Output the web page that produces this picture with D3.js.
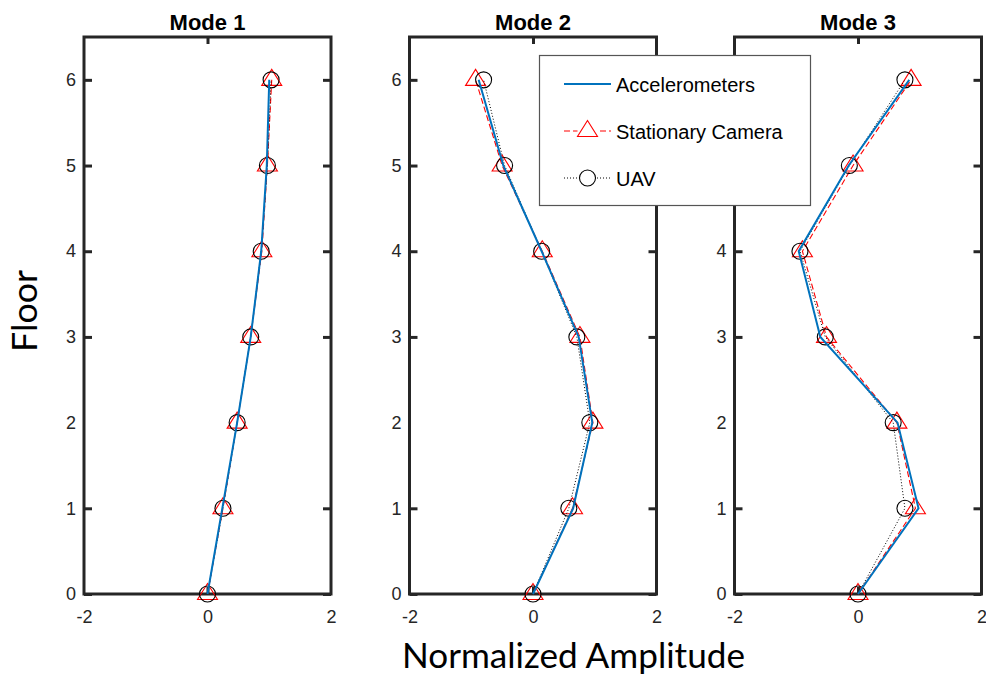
<!DOCTYPE html>
<html>
<head>
<meta charset="utf-8">
<script src="https://cdn.jsdelivr.net/npm/d3@7"></script>
<style>
	body { margin: 0; background: #fff; }
	svg { display: block; }
	.tick text { font-family: "Liberation Sans", Arial, sans-serif; font-size: 18px; fill: #262626; }
	.tick line { stroke: #262626; stroke-width: 3; }
</style>
</head>
<body>
<svg id="chart" width="986" height="675"></svg>
<script>
// values, one array per floor 0..6
const floors = [0, 1, 2, 3, 4, 5, 6]
const modeTitles = ['Mode 1', 'Mode 2', 'Mode 3']
const accelerometers = [
	[0, 0.24, 0.48, 0.70, 0.87, 0.96, 1.00],
	[0, 0.65, 0.96, 0.74, 0.14, -0.48, -0.88],
	[0, 0.98, 0.64, -0.61, -0.96, -0.15, 0.83]
]
const stationaryCamera = [
	[0, 0.25, 0.48, 0.70, 0.88, 0.97, 1.04],
	[0, 0.64, 0.97, 0.76, 0.15, -0.50, -0.93],
	[0, 0.93, 0.63, -0.51, -0.90, -0.08, 0.86]
]
const uav = [
	[0, 0.25, 0.48, 0.70, 0.87, 0.97, 1.03],
	[0, 0.58, 0.92, 0.71, 0.14, -0.46, -0.80],
	[0, 0.76, 0.57, -0.53, -0.94, -0.14, 0.76]
]
const xTicks = [-2, 0, 2]
const yTicks = [0, 1, 2, 3, 4, 5, 6]
const legendLabels = ['Accelerometers', 'Stationary Camera', 'UAV']

const axisColor = '#262626'
const blue = '#0072BD'
const red = '#FF0000'

const panelLefts = [84, 409.5, 734.5]
const panelWidth = 247
const plotTop = 37
const plotBottom = 594
const legendBox = {x: 539.5, y: 55.5, w: 271, h: 150}

const svg = d3.select('#chart')
const plain = d => String(d)

const yScale = d3.scaleLinear().domain([0, 6.5]).range([plotBottom, plotTop])

const triangle = () => {
	const p = d3.path()
	p.moveTo(0, -10.5); p.lineTo(10, 5.5); p.lineTo(-10, 5.5); p.closePath()
	return p.toString()
}

function drawCamera(g, pts) {
	g.selectAll('path.tri').data(pts).enter().append('path')
		.attr('class', 'tri')
		.attr('d', triangle())
		.attr('transform', d => `translate(${d[0]},${d[1]})`)
		.attr('fill', 'none').attr('stroke', red).attr('stroke-width', 1.1)
}
function drawUav(g, pts) {
	g.selectAll('circle.uav').data(pts).enter().append('circle')
		.attr('class', 'uav')
		.attr('cx', d => d[0]).attr('cy', d => d[1]).attr('r', 8)
		.attr('fill', 'none').attr('stroke', '#000').attr('stroke-width', 1.1)
}

modeTitles.forEach((title, i) => {
	const left = panelLefts[i]
	const xScale = d3.scaleLinear().domain([-2, 2]).range([left, left + panelWidth])
	const g = svg.append('g').attr('class', 'panel')

	const line = d3.line().x(d => xScale(d[0])).y(d => yScale(d[1]))
	const pts = (vals) => vals.map((v, k) => [v, floors[k]])
	const px = (vals) => vals.map((v, k) => [xScale(v), yScale(floors[k])])

	// axes, inward ticks on all four sides
	const leftAxis = g.append('g').attr('transform', `translate(${left},0)`)
		.call(d3.axisLeft(yScale).tickValues(yTicks).tickSize(-8).tickPadding(8).tickFormat(plain))
	// labels that sit behind the legend box are not visible in the figure
	if (left > legendBox.x && left - 20 < legendBox.x + legendBox.w)
		leftAxis.selectAll('.tick').filter(d => yScale(d) > legendBox.y && yScale(d) < legendBox.y + legendBox.h)
			.select('text').remove()
	g.append('g').attr('transform', `translate(${left + panelWidth},0)`)
		.call(d3.axisRight(yScale).tickValues(yTicks).tickSize(-8).tickFormat(''))
	g.append('g').attr('transform', `translate(0,${plotBottom})`)
		.call(d3.axisBottom(xScale).tickValues(xTicks).tickSize(-7).tickPadding(16).tickFormat(plain))
	g.append('g').attr('transform', `translate(0,${plotTop})`)
		.call(d3.axisTop(xScale).tickValues(xTicks).tickSize(-7).tickFormat(''))
	g.selectAll('.domain').remove()
	g.selectAll('.tick').filter(d => d === -2 || d === 2).select('line').remove()

	g.append('rect')
		.attr('x', left).attr('y', plotTop)
		.attr('width', panelWidth).attr('height', plotBottom - plotTop)
		.attr('fill', 'none').attr('stroke', axisColor).attr('stroke-width', 3)

	g.append('text')
		.attr('x', left + panelWidth / 2).attr('y', 30)
		.attr('text-anchor', 'middle')
		.style('font-family', '"Liberation Sans", Arial, sans-serif')
		.style('font-weight', 'bold').style('font-size', '22px')
		.attr('fill', '#000')
		.text(title)

	// series
	g.append('path').datum(pts(stationaryCamera[i])).attr('d', line)
		.attr('fill', 'none').attr('stroke', red).attr('stroke-width', 1.1)
		.attr('stroke-dasharray', '6,3')
	drawCamera(g, px(stationaryCamera[i]))

	g.append('path').datum(pts(uav[i])).attr('d', line)
		.attr('fill', 'none').attr('stroke', '#000').attr('stroke-width', 1)
		.attr('stroke-dasharray', '1,2')
	drawUav(g, px(uav[i]))

	g.append('path').datum(pts(accelerometers[i])).attr('d', line)
		.attr('fill', 'none').attr('stroke', blue).attr('stroke-width', 2)
})

// axis labels
svg.append('text')
	.attr('x', 573.5).attr('y', 668)
	.attr('text-anchor', 'middle')
	.attr('textLength', 343).attr('lengthAdjust', 'spacingAndGlyphs')
	.style('font-family', 'Lato, "Open Sans", sans-serif').style('font-size', '34px')
	.attr('fill', '#000')
	.text('Normalized Amplitude')
svg.append('text')
	.attr('transform', 'translate(37,311) rotate(-90)')
	.attr('text-anchor', 'middle')
	.attr('textLength', 82).attr('lengthAdjust', 'spacingAndGlyphs')
	.style('font-family', 'Lato, "Open Sans", sans-serif').style('font-size', '34px')
	.attr('fill', '#000')
	.text('Floor')

// legend, drawn last so it covers the neighbouring axis
const legend = svg.append('g')
legend.append('rect')
	.attr('x', legendBox.x).attr('y', legendBox.y).attr('width', legendBox.w).attr('height', legendBox.h)
	.attr('fill', '#fff').attr('stroke', '#555').attr('stroke-width', 1.2)

const rowY = d3.scalePoint().domain(legendLabels).range([84, 178])
const sampleX = d3.scaleLinear().domain([0, 1]).range([564, 611])

legendLabels.forEach((label, k) => {
	const y = rowY(label)
	const seg = legend.append('line')
		.attr('x1', sampleX(0)).attr('x2', sampleX(1)).attr('y1', y).attr('y2', y)
	if (k === 0) seg.attr('stroke', blue).attr('stroke-width', 2)
	if (k === 1) {
		seg.attr('stroke', red).attr('stroke-width', 1.1).attr('stroke-dasharray', '6,3')
		legend.append('rect').attr('x', sampleX(0.5) - 10).attr('y', y - 10)
			.attr('width', 20).attr('height', 16).attr('fill', '#fff')
		drawCamera(legend.append('g'), [[sampleX(0.5), y]])
	}
	if (k === 2) {
		seg.attr('stroke', '#000').attr('stroke-width', 1).attr('stroke-dasharray', '1,2')
		legend.append('rect').attr('x', sampleX(0.5) - 8).attr('y', y - 8)
			.attr('width', 16).attr('height', 16).attr('fill', '#fff')
		drawUav(legend.append('g'), [[sampleX(0.5), y]])
	}
	legend.append('text')
		.attr('x', 616).attr('y', y + 8)
		.style('font-family', '"Liberation Sans", Arial, sans-serif').style('font-size', '20px')
		.attr('fill', '#000')
		.text(label)
})
</script>
</body>
</html>
